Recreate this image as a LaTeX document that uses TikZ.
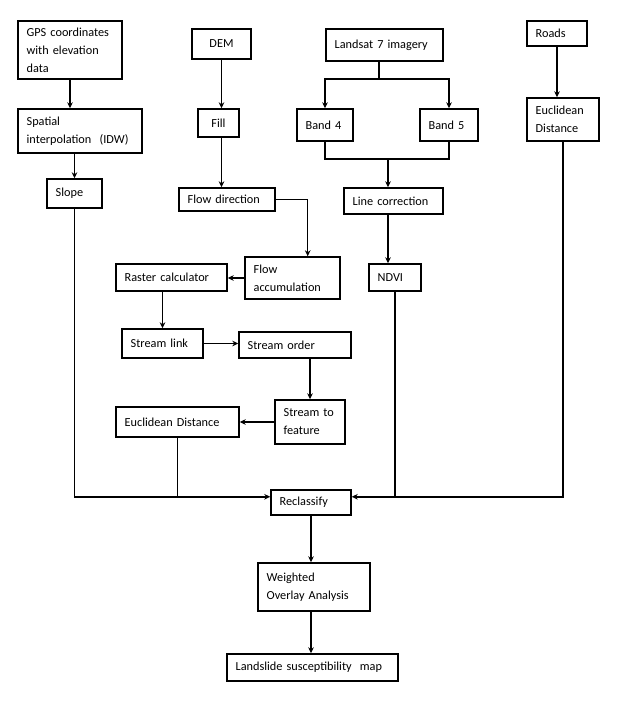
\documentclass[tikz,border=0pt]{standalone}
\usepackage{fontspec}
\setmainfont{Carlito}
\usetikzlibrary{arrows.meta}

\begin{document}
\begin{tikzpicture}[x=0.75pt, y=-0.75pt, >={Stealth[length=4.5pt, width=4.2pt]},
    box/.style={draw, line width=1.1pt, inner xsep=6.5pt, inner ysep=2pt, align=left,
        font=\fontsize{9.2}{13.5}\selectfont},
    flow/.style={line width=1.1pt}]
    \useasboundingbox (0,0) rectangle (620,718);

    % input layers
    \node[box, text width=65pt, minimum height=43.5pt] (gps) at (70,50) {GPS coordinates\\ with elevation\\ data};
    \node[box, text width=31.25pt, minimum height=22.5pt, align=center] (dem) at (221.5,44) {DEM};
    \node[box, text width=74.75pt, minimum height=24pt] (landsat) at (384.5,45) {Landsat 7 imagery};
    \node[box, text width=32pt, minimum height=18.75pt] (roads) at (557,33.5) {Roads};

    \node[box, text width=80pt, minimum height=33pt] (idw) at (80,131) {Spatial\\ interpolation \ (IDW)};
    \node[box, text width=17.75pt, minimum height=21pt, align=center] (fill) at (218.5,123) {Fill};
    \node[box, text width=29pt, minimum height=24pt] (band4) at (325,125) {Band 4};
    \node[box, text width=30.5pt, minimum height=24pt] (band5) at (449,125) {Band 5};
    \node[box, text width=41pt, minimum height=32.25pt] (eucr) at (563,119.5) {Euclidean\\ Distance};

    \node[box, text width=28.25pt, minimum height=21.75pt] (slope) at (74.5,193.5) {Slope};
    \node[box, text width=59pt, minimum height=17.25pt] (flowdir) at (227,199.5) {Flow direction};
    \node[box, text width=61.25pt, minimum height=19.5pt] (linecor) at (393.5,201) {Line correction};

    % hydrology chain
    \node[box, text width=58.25pt, minimum height=31.5pt] (flowacc) at (292.5,278) {Flow\\ accumulation};
    \node[box, text width=70.25pt, minimum height=20.25pt] (raster) at (171.5,277.5) {Raster calculator};
    \node[box, text width=26pt, minimum height=20.25pt] (ndvi) at (395,277.5) {NDVI};
    \node[box, text width=47.75pt, minimum height=21.75pt] (slink) at (162.5,343.5) {Stream link};
    \node[box, text width=71pt, minimum height=19.5pt] (sorder) at (295,345) {Stream order};
    \node[box, text width=39.5pt, minimum height=33pt] (sfeat) at (310,422) {Stream to\\ feature};
    \node[box, text width=79.25pt, minimum height=22.5pt] (eucl) at (177.5,422) {Euclidean Distance};

    % analysis
    \node[box, text width=47pt, minimum height=18.75pt] (reclass) at (311,502.5) {Reclassify};
    \node[box, text width=71pt, minimum height=36pt] (woa) at (314,587) {Weighted\\ Overlay Analysis};
    \node[box, text width=115.25pt, minimum height=20.25pt] (map) at (312.5,667.5) {Landslide susceptibility \ map};

    \coordinate (split) at (379,79);
    \coordinate (join) at (388,159);

    \draw[flow, ->] (gps.south) -- (gps.south |- idw.north);
    \draw[flow, ->] (slope.north |- idw.south) -- (slope.north);
    \draw[flow, ->] (dem.south) -- (dem.south |- fill.north);
    \draw[flow, ->] (dem.south |- fill.south) -- (dem.south |- flowdir.north);
    \draw[flow] (landsat.south -| split) -- (split);
    \draw[flow, ->] (split) -| (band4.north);
    \draw[flow, ->] (split) -| (band5.north);
    \draw[flow] (band4.south) |- (join) -| (band5.south);
    \draw[flow, ->] (join) -- (join |- linecor.north);
    \draw[flow, ->] (roads.south) -- (roads.south |- eucr.north);

    \draw[flow, ->] (flowdir.east) -| (flowacc.55);
    \draw[flow, ->] (flowacc.west) -- (flowacc.west -| raster.east);
    \draw[flow, ->] (slink.north |- raster.south) -- (slink.north);
    \draw[flow, ->] (slink.east) -- (slink.east -| sorder.west);
    \draw[flow, ->] (sfeat.north |- sorder.south) -- (sfeat.north);
    \draw[flow, ->] (sfeat.west) -- (eucl.east);
    \draw[flow, ->] (join |- linecor.south) -- (join |- ndvi.north);

    \draw[flow, ->] (slope.south) |- (reclass.172);
    \draw[flow] (eucl.south) -- (eucl.south |- reclass.172);
    \draw[flow, ->] (eucr.south) |- (reclass.8);
    \draw[flow] (ndvi.south) -- (ndvi.south |- reclass.8);

    \draw[flow, ->] (reclass.south) -- (reclass.south |- woa.north);
    \draw[flow, ->] (reclass.south |- woa.south) -- (reclass.south |- map.north);
\end{tikzpicture}
\end{document}
